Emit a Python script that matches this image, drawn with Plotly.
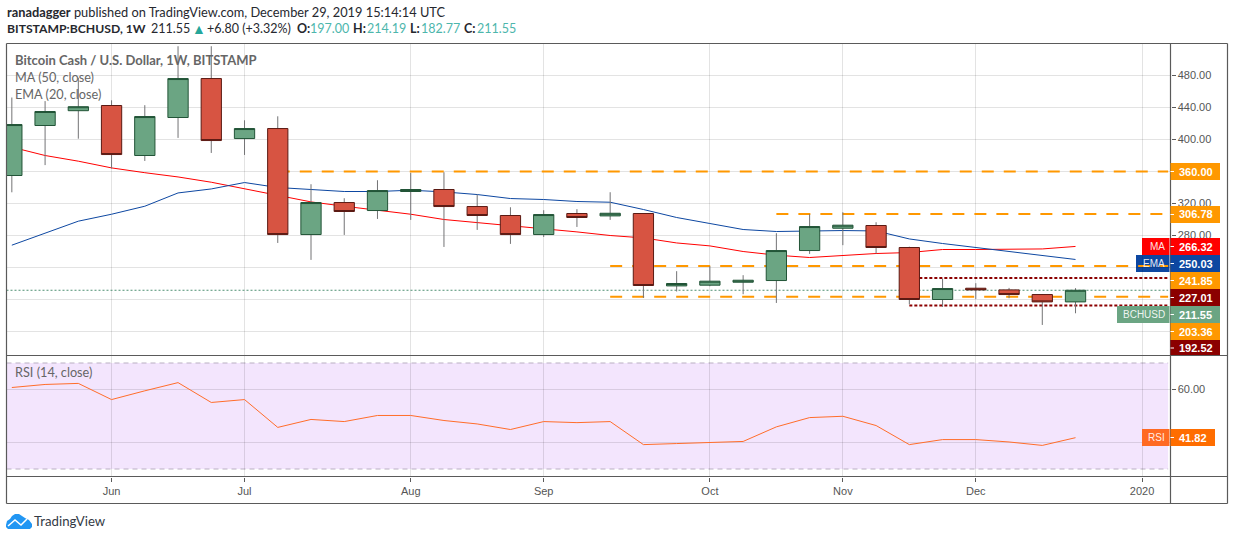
import plotly.graph_objects as go

# ---------- data ----------
weeks = ["2019-05-13","2019-05-20","2019-05-27","2019-06-03","2019-06-10","2019-06-17","2019-06-24",
         "2019-07-01","2019-07-08","2019-07-15","2019-07-22","2019-07-29","2019-08-05","2019-08-12",
         "2019-08-19","2019-08-26","2019-09-02","2019-09-09","2019-09-16","2019-09-23","2019-09-30",
         "2019-10-07","2019-10-14","2019-10-21","2019-10-28","2019-11-04","2019-11-11","2019-11-18",
         "2019-11-25","2019-12-02","2019-12-09","2019-12-16","2019-12-23"]
opens  = [355,417.5,436,442.5,380,427.5,476.2,401.2,413.7,281.2,321.2,311.2,335,337.5,316.2,305,281.2,
          307.5,304.5,307.5,217,217.9,221.6,223.7,261.2,289.1,292.5,265,200,214.1,212,206.2,197]
highs  = [452.5,448,477,449,442.9,516.6,516.6,424,429,344.1,326.6,349.1,358.2,359.1,331.2,315.3,311.6,
          312.9,334.1,307.8,235.4,241.6,230.4,282.9,306.6,309.1,296.6,266,226.2,220.4,214.5,206.5,214.19]
lows   = [334,368,401,363.7,373.2,402,383.2,380.7,270.7,249.5,280.7,300.7,299.5,265.7,287,269.5,278.2,
          290.7,299.5,202,210,216.6,206.6,195.7,257,267.9,257.5,194,190.7,200.7,201.6,168.2,182.77]
closes = [418.7,435,441,381.2,428.7,476.2,398.7,413.7,281.2,321.2,310,336.2,337.5,316.2,305,281.2,306.2,
          302.5,307.8,217.5,220,222.9,224.1,261.2,291.2,292.9,265,200,213.7,212,206.2,197,211.55]
ma50   = [390.4,380,372.9,364.5,358.5,353.2,346.6,338.7,330.4,322,316.6,311.6,306.6,300,296.2,292.5,288.2,
          284.5,280,277,270.7,267,260,255.4,252.5,255,257.5,258.7,262.5,262.5,263.2,263.2,266.32]
ema20  = [267.9,282.9,297.9,306.6,316.6,333.2,338.2,346.2,340,337.5,335,335,336.6,334.5,331.2,326.2,325,
          322.5,321.6,312.5,302.5,295,287.5,285,285.7,286.2,285.7,275.7,270,265,260.3,255.4,250.03]
rsi    = [60.75,61.9,62.3,56.2,59.5,62.6,55.1,56.2,45.7,48.7,47.9,50.2,50.2,48.3,47,44.9,47.9,47.5,47.9,
          39.2,39.6,40,40.4,45.9,49.4,49.9,46.4,39.2,41.1,41.1,40.2,38.9,41.82]

price_ticks = [160,200,240,280,320,360,400,440,480]
price_labels = ["","","","280.00","320.00","","400.00","440.00","480.00"]   # the others sit fully under the price tags
rsi_ticks = [40,60]
rsi_labels = ["","60.00"]
month_ticks = ["2019-06-03","2019-07-01","2019-08-05","2019-09-02","2019-10-07","2019-11-04","2019-12-02","2020-01-06"]
month_labels = ["Jun","Jul","Aug","Sep","Oct","Nov","Dec","2020"]

axis_start = "2019-05-11 21:00"
line_end = "2020-01-11 12:00"
dashed_levels = [(360.00,"2019-07-08"),(306.78,"2019-10-21"),(241.85,"2019-09-16"),(203.36,"2019-09-16")]
dotted_levels = [(227.01,"2019-11-18"),(192.52,"2019-11-18")]
last_price = 211.55

ORANGE="#ff9800"; DKRED="#8b0000"; GREEN="#6ba583"; RED="#ff0000"; BLUE="#0d47a1"
tags = [  # right text, colour, top px, bottom px, right edge, left label, left edge
    ("360.00",ORANGE,163,180,1220,None,None),
    ("306.78",ORANGE,206,223,1220,None,None),
    ("266.32",RED,238,255,1220,"MA",1142),
    ("250.03",BLUE,255,272,1220,"EMA",1136),
    ("241.85",ORANGE,272,289,1220,None,None),
    ("227.01",DKRED,289,306,1220,None,None),
    ("211.55",GREEN,306,323,1220,"BCHUSD",1117),
    ("203.36",ORANGE,323,340,1220,None,None),
    ("192.52",DKRED,340,355,1220,None,None),
    ("41.82","#ff6d00",429,446,1215,"RSI",1142),
]

W,H = 1234,540
X = lambda p: p/W
Y = lambda p: 1-p/H
FRAME="#5a5a5a"; GRID="rgba(0,0,0,0.11)"
AXFONT=dict(family="Liberation Sans, Arial",size=11,color="#555555")
TXT="Lato"

fig = go.Figure()
fig.add_trace(go.Scatter(x=[axis_start,line_end],y=[last_price,last_price],mode="lines",
    line=dict(color="#4f8f72",width=1,dash="2px,2px"),zorder=-1,xaxis="x",yaxis="y"))
for lvl,start in dashed_levels:
    fig.add_trace(go.Scatter(x=[start,line_end],y=[lvl,lvl],mode="lines",
        line=dict(color=ORANGE,width=2,dash="12px,10px"),zorder=-1,xaxis="x",yaxis="y"))
for lvl,start in dotted_levels:
    fig.add_trace(go.Scatter(x=[start,line_end],y=[lvl,lvl],mode="lines",
        line=dict(color=DKRED,width=2,dash="3px,2px"),zorder=-1,xaxis="x",yaxis="y"))
fig.add_trace(go.Scatter(x=weeks,y=ma50,mode="lines",line=dict(color=RED,width=1),zorder=-1,xaxis="x",yaxis="y"))
fig.add_trace(go.Scatter(x=weeks,y=ema20,mode="lines",line=dict(color=BLUE,width=1),zorder=-1,xaxis="x",yaxis="y"))

# wicks
wick_x=[]; wick_y=[]
for d,h,l in zip(weeks,highs,lows):
    wick_x += [d,d,None]; wick_y += [h,l,None]
fig.add_trace(go.Scatter(x=wick_x,y=wick_y,mode="lines",line=dict(color="#737375",width=1),
                         connectgaps=False,zorder=-1,xaxis="x",yaxis="y"))
# bodies
fig.add_trace(go.Candlestick(x=weeks,open=opens,close=closes,
    high=[max(o,c) for o,c in zip(opens,closes)],low=[min(o,c) for o,c in zip(opens,closes)],whiskerwidth=0,
    increasing=dict(line=dict(color="#225437",width=1),fillcolor=GREEN),
    decreasing=dict(line=dict(color="#5b1a13",width=1),fillcolor="#d75442"),xaxis="x",yaxis="y"))

fig.add_trace(go.Scatter(x=weeks,y=rsi,mode="lines",line=dict(color="#ff6d2a",width=1),xaxis="x2",yaxis="y2"))

shapes=[]
# RSI band
shapes.append(dict(type="rect",xref="x2",yref="y2",x0=axis_start,x1=line_end,y0=30,y1=70,layer="below",
                   fillcolor="#f3e5fd",line=dict(width=0)))
for v in (30,70):
    shapes.append(dict(type="line",xref="x2",yref="y2",x0=axis_start,x1=line_end,y0=v,y1=v,layer="below",
                       line=dict(color="#b9afc2",width=1,dash="5px,4px")))
# frame
L,R,RR,T,M,B,BB = 6.5,1170.5,1227.5,43.5,355.5,476.5,503.5
for x0,y0,x1,y1 in [(L,T,RR,T),(L,BB,RR,BB),(L,T,L,BB),(RR,T,RR,BB),(R,T,R,BB),(L,M,RR,M),(L,B,RR,B)]:
    shapes.append(dict(type="line",xref="paper",yref="paper",x0=X(x0),x1=X(x1),y0=Y(y0),y1=Y(y1),layer="above",
                       line=dict(color=FRAME,width=1.2)))

ann=[]
def text(x,y,t,size=13,color="#555555",anchor="left",family=TXT):
    ann.append(dict(xref="paper",yref="paper",x=X(x),y=Y(y),text=t,showarrow=False,xanchor=anchor,yanchor="middle",
                    align="left",font=dict(family=family,size=size,color=color),borderpad=0,borderwidth=0))

for val,col,t,b,re,lab,le in tags:
    shapes.append(dict(type="rect",xref="paper",yref="paper",x0=X(1170.5),x1=X(re),y0=Y(t),y1=Y(b),
                       layer="above",fillcolor=col,line=dict(width=0)))
    m=(t+b)/2 if val!="192.52" else 348
    shapes.append(dict(type="line",xref="paper",yref="paper",x0=X(1170.5),x1=X(1174),y0=Y(m),y1=Y(m),
                       layer="above",line=dict(color="white",width=1)))
    text(1179,m,f"<b>{val}</b>",size=11,color="white",anchor="left",family="Liberation Sans")
    if lab:
        lay = "below" if lab=="EMA" else "above"
        shapes.append(dict(type="rect",xref="paper",yref="paper",x0=X(le),x1=X(1169.5),y0=Y(t),y1=Y(b),
                           layer=lay,fillcolor=("#ff6a22" if lab=="RSI" else col),line=dict(width=0)))
        text(1165,m,lab,size=10,color="rgba(255,255,255,0.9)",anchor="right",family="Liberation Sans")

INK="#26282e"; TEAL="#4db6ac"
text(6.5,12,"<b>ranadagger</b> published on TradingView.com, December 29, 2019 15:14:14 UTC",size=12.8,color=INK)
text(6.5,29,"<b>BITSTAMP:BCHUSD, 1W</b>",size=12.2,color=INK)
text(151,29,"211.55",size=12.5,color=INK)
text(192,29,"▲",size=14,color="#26a69a")
text(207,29,"+6.80 (+3.32%)",size=12.5,color=INK)
for lx,lab,vx,val in [(297,"O:",310,"197.00"),(353,"H:",367,"214.19"),(410,"L:",421,"182.77"),(464,"C:",477,"211.55")]:
    text(lx,29,f"<b>{lab}</b>",size=12.5,color=INK)
    text(vx,29,val,size=12.5,color=TEAL)
text(15,60,"<b>Bitcoin Cash / U.S. Dollar, 1W, BITSTAMP</b>",size=13,color="#666666")
text(15,77,"MA (50, close)",size=12.7,color="#666666")
text(15,94,"EMA (20, close)",size=12.7,color="#666666")
text(15,372,"RSI (14, close)",size=12.7,color="#666666")
text(34,521,"TradingView",size=13.2,color="#333a45")

# logo
def P(pts): return "M"+" L".join(f"{X(a):.5f},{Y(b):.5f}" for a,b in pts)+" Z"
cloud=[(6,525),(7,521),(10,519),(12,516),(15,514),(19,514),(22,516),(25,518),(29,520),(32,524),(32,527),(30,529),(8,529),(6,527)]
shapes.append(dict(type="path",xref="paper",yref="paper",path=P(cloud),fillcolor="#2196f3",line=dict(width=0),layer="above"))
shapes.append(dict(type="path",xref="paper",yref="paper",
    path="M"+" L".join(f"{X(a):.5f},{Y(b):.5f}" for a,b in [(8,526),(15,520),(21,525),(27,519)]),
    line=dict(color="white",width=1.5),layer="above"))

fig.update_layout(width=W,height=H,margin=dict(l=0,r=0,t=0,b=0),paper_bgcolor="white",plot_bgcolor="white",
    showlegend=False,boxgap=0.39,boxgroupgap=0,shapes=shapes,annotations=ann,hovermode=False,
    xaxis=dict(domain=[X(L),X(R)],type="date",range=[axis_start,"2020-01-12 00:00"],rangeslider=dict(visible=False),
               tickvals=month_ticks,ticktext=[""]*8,showgrid=True,gridcolor=GRID,gridwidth=1,ticks="",anchor="y",zeroline=False),
    yaxis=dict(domain=[Y(M),Y(T)],range=[130,520],side="right",tickvals=price_ticks,ticktext=price_labels,
               showgrid=True,gridcolor=GRID,gridwidth=1,ticks="outside",ticklen=4,tickcolor=FRAME,tickfont=AXFONT,anchor="x",zeroline=False),
    xaxis2=dict(domain=[X(L),X(R)],type="date",matches="x",tickvals=month_ticks,ticktext=month_labels,showgrid=True,gridcolor=GRID,
                gridwidth=1,ticks="outside",ticklen=4,tickcolor=FRAME,tickfont=AXFONT,anchor="y2",zeroline=False),
    yaxis2=dict(domain=[Y(B),Y(M)],range=[27.17,72.83],side="right",tickvals=rsi_ticks,ticktext=rsi_labels,
                showgrid=True,gridcolor=GRID,gridwidth=1,ticks="outside",ticklen=4,tickcolor=FRAME,tickfont=AXFONT,anchor="x2",zeroline=False),
)
fig.write_html("out.html",config={"displayModeBar":False},
               post_script="document.body.style.margin='0';document.documentElement.style.overflow='hidden';")
